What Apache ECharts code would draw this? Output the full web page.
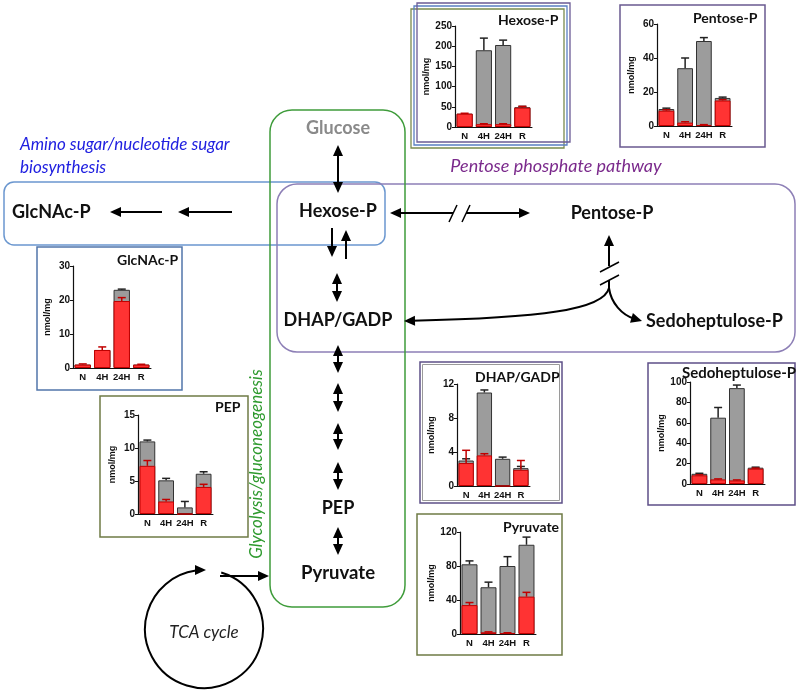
<!DOCTYPE html>
<html><head><meta charset="utf-8">
<script src="https://cdn.jsdelivr.net/npm/echarts@6/dist/echarts.min.js"></script>
<style>html,body{margin:0;padding:0;background:#fff}#c{width:800px;height:693px}</style>
</head><body><div id="c"></div>
<script>
// ---------- DATA ----------
const categories = ['N', '4H', '24H', 'R'];
const chartNames = ['Hexose-P', 'Pentose-P', 'GlcNAc-P', 'PEP', 'DHAP/GADP', 'Sedoheptulose-P', 'Pyruvate'];
const yMax = [250, 60, 30, 15, 12, 100, 120];
const yStep = [50, 20, 10, 5, 4, 20, 40];

const hexoseGray = [33, 190, 203, 49];
const hexoseGrayErr = [null, 220, 215, 51];
const hexoseRed = [33, 7, 7, 48];
const hexoseRedErr = [34, 8, 8, 51];

const pentoseGray = [10, 34, 50, 16.5];
const pentoseGrayErr = [10.5, 40, 52, 17];
const pentoseRed = [9, 2, 0.5, 15];
const pentoseRedErr = [9.5, 2.5, 0.8, 15.5];

const glcnacGray = [1, 5.3, 23, 1];
const glcnacGrayErr = [null, null, 23.2, null];
const glcnacRed = [1, 5.3, 19.7, 1];
const glcnacRedErr = [1.2, 6.2, 20.7, 1.1];

const pepGray = [11, 5.1, 1.0, 6.1];
const pepGrayErr = [11.2, 5.4, 1.9, 6.4];
const pepRed = [7.3, 1.9, 0, 4.1];
const pepRedErr = [8.1, 2.2, null, 4.5];

const dhapGray = [3.0, 11.0, 3.2, 2.1];
const dhapGrayErr = [3.2, 11.3, 3.4, 2.3];
const dhapRed = [2.7, 3.6, 0, 1.9];
const dhapRedErr = [4.2, 3.8, null, 3.0];

const sedoGray = [10, 65, 94, 16];
const sedoGrayErr = [10.5, 75, 97, 16.5];
const sedoRed = [8.5, 4.5, 3.5, 15];
const sedoRedErr = [9, 5, 4, 15.5];

const pyruvateGray = [82, 55, 80, 105];
const pyruvateGrayErr = [86, 61, 91, 114];
const pyruvateRed = [34, 2, 1, 44];
const pyruvateRedErr = [37, 2.5, 1.5, 49];

const grayVals = [hexoseGray, pentoseGray, glcnacGray, pepGray, dhapGray, sedoGray, pyruvateGray];
const grayErrs = [hexoseGrayErr, pentoseGrayErr, glcnacGrayErr, pepGrayErr, dhapGrayErr, sedoGrayErr, pyruvateGrayErr];
const redVals = [hexoseRed, pentoseRed, glcnacRed, pepRed, dhapRed, sedoRed, pyruvateRed];
const redErrs = [hexoseRedErr, pentoseRedErr, glcnacRedErr, pepRedErr, dhapRedErr, sedoRedErr, pyruvateRedErr];

// ---------- LAYOUT ----------
const gridBox = [ // left, top, width, height
  [455, 26, 77, 101],
  [657, 24, 75, 102],
  [73, 266, 78, 102],
  [138, 415, 75, 99],
  [457, 384, 73, 102],
  [690, 382, 75, 102],
  [460, 532, 76, 102]
];
const titlePos = [[498, 20], [693, 18], [117, 260], [215, 407], [475, 377], [682, 373], [503, 527]];
const titleSize = [14, 14, 14, 14, 14, 15, 14];

const AX = 'Liberation Sans';
const DF = 'Lato';

const grids = [], xAxes = [], yAxes = [], series = [];
chartNames.forEach((nm, i) => {
  const g = gridBox[i];
  grids.push({left: g[0], top: g[1], width: g[2], height: g[3]});
  xAxes.push({type: 'category', gridIndex: i, data: categories,
    axisLine: {lineStyle: {color: '#111', width: 1}}, axisTick: {show: false},
    axisLabel: {interval: 0, fontFamily: AX, fontWeight: 'bold', fontSize: 9.5, color: '#111', margin: 4}});
  yAxes.push({type: 'value', gridIndex: i, min: 0, max: yMax[i], interval: yStep[i],
    splitLine: {show: false},
    axisLine: {show: true, lineStyle: {color: '#111', width: 1.2}},
    axisTick: {show: true, length: 3, lineStyle: {color: '#111'}},
    axisLabel: {fontFamily: AX, fontWeight: 'bold', fontSize: 10, color: '#111', margin: 3},
    name: 'nmol/mg', nameLocation: 'middle', nameGap: 21, nameRotate: 90,
    nameTextStyle: {fontFamily: AX, fontWeight: 'bold', fontSize: 9, color: '#111'}});
  series.push({type: 'bar', xAxisIndex: i, yAxisIndex: i, data: grayVals[i],
    barCategoryGap: '16%', barGap: '-100%',
    itemStyle: {color: '#9c9c9c', borderColor: '#333', borderWidth: 1}, z: 2});
  series.push({type: 'bar', xAxisIndex: i, yAxisIndex: i, data: redVals[i],
    barCategoryGap: '16%', barGap: '-100%',
    itemStyle: {color: '#ff3333', borderColor: '#c00000', borderWidth: 1}, z: 3});
  const mkErr = (vals, errs, color, z) => ({
    type: 'custom', xAxisIndex: i, yAxisIndex: i, z: z,
    data: categories.map((c, k) => [k, vals[k], errs[k] == null ? vals[k] : errs[k]]),
    renderItem: (params, api) => {
      const k = api.value(0), v = api.value(1), e = api.value(2);
      if (!(e > v)) return null;
      const p0 = api.coord([k, v]), p1 = api.coord([k, e]);
      return {type: 'group', children: [
        {type: 'line', shape: {x1: p0[0], y1: p0[1], x2: p1[0], y2: p1[1]}, style: {stroke: color, lineWidth: 1.5}},
        {type: 'line', shape: {x1: p1[0] - 4, y1: p1[1], x2: p1[0] + 4, y2: p1[1]}, style: {stroke: color, lineWidth: 1.5}}
      ]};
    }
  });
  series.push(mkErr(grayVals[i], grayErrs[i], '#222', 4));
  series.push(mkErr(redVals[i], redErrs[i], '#c00000', 5));
});

// ---------- DIAGRAM GRAPHICS ----------
const G = [];
function rect(x, y, w, h, r, stroke, lw) {
  G.push({type: 'rect', z: 1, shape: {x: x, y: y, width: w, height: h, r: r}, style: {fill: 'none', stroke: stroke, lineWidth: lw || 1.5}});
}
function text(s, x, y, font, fill, align, rot) {
  G.push({type: 'text', z: 50, x: x, y: y, rotation: rot || 0,
    style: {text: s, font: font, fill: fill || '#111', align: align || 'center', verticalAlign: 'middle'}});
}
function line(x1, y1, x2, y2, lw) {
  G.push({type: 'line', z: 40, shape: {x1: x1, y1: y1, x2: x2, y2: y2}, style: {stroke: '#000', lineWidth: lw || 2}});
}
function head(x, y, ang) {
  const L = 11, W = 5;
  const bx = x - L * Math.cos(ang), by = y - L * Math.sin(ang);
  const px = -Math.sin(ang) * W, py = Math.cos(ang) * W;
  G.push({type: 'polygon', z: 41, shape: {points: [[x, y], [bx + px, by + py], [bx - px, by - py]]}, style: {fill: '#000'}});
}
function arrow(x1, y1, x2, y2, hs, he) {
  const ang = Math.atan2(y2 - y1, x2 - x1), c = Math.cos(ang), s = Math.sin(ang);
  let a1 = x1, b1 = y1, a2 = x2, b2 = y2;
  if (he) { a2 = x2 - 8 * c; b2 = y2 - 8 * s; head(x2, y2, ang); }
  if (hs) { a1 = x1 + 8 * c; b1 = y1 + 8 * s; head(x1, y1, ang + Math.PI); }
  line(a1, b1, a2, b2);
}
function curveArrow(x1, y1, cx1, cy1, cx2, cy2, x2, y2) {
  const ang = Math.atan2(y2 - cy2, x2 - cx2);
  G.push({type: 'bezierCurve', z: 40, shape: {x1: x1, y1: y1, cpx1: cx1, cpy1: cy1, cpx2: cx2, cpy2: cy2,
    x2: x2 - 8 * Math.cos(ang), y2: y2 - 8 * Math.sin(ang)}, style: {stroke: '#000', lineWidth: 2, fill: 'none'}});
  head(x2, y2, ang);
}

// pathway boxes
rect(4, 182, 381, 63, 10, '#6b97cf');
rect(277, 184, 518, 168, 20, '#8d7fb6');
rect(270, 110, 135, 497, 22, '#3f9c3b');

// chart frames
rect(411, 9, 153, 139, 0, '#7a8a4e', 1.3);
rect(414, 6, 153, 139, 0, '#5a7fc2', 1.3);
rect(417, 3, 153, 139, 0, '#6b5b95', 1.3);
rect(620, 5, 145, 142, 0, '#6a5a90');
rect(37, 247, 145, 143, 0, '#5276aa');
rect(100, 396, 148, 141, 0, '#6f7b45');
rect(420, 362, 142, 141, 0, '#5e5088');
rect(422.5, 364.5, 137, 136, 0, '#9a9a9a', 1);
rect(648, 363, 147, 142, 0, '#5e4f88');
rect(417, 514, 145, 141, 0, '#6f7b45');

// chart titles
chartNames.forEach((nm, i) => text(nm, titlePos[i][0], titlePos[i][1], 'bold ' + titleSize[i] + 'px ' + DF, '#111', 'left'));

// labels
text('Amino sugar/nucleotide sugar', 20, 145, 'italic 17px ' + DF, '#2020e0', 'left');
text('biosynthesis', 20, 168, 'italic 17px ' + DF, '#2020e0', 'left');
text('Pentose phosphate pathway', 556, 166, 'italic 18px ' + DF, '#7b2a8c');
text('Glycolysis/gluconeogenesis', 257, 464, 'italic 17px ' + DF, '#2e9a2e', 'center', Math.PI / 2);
text('TCA cycle', 204, 633, 'italic 17px ' + DF, '#222');
text('GlcNAc-P', 12, 212, 'bold 18px ' + DF, '#111', 'left');
text('Glucose', 338, 128, 'bold 18px ' + DF, '#8a8a8a');
text('Hexose-P', 338, 211, 'bold 18px ' + DF);
text('Pentose-P', 612, 213, 'bold 18px ' + DF);
text('DHAP/GADP', 338, 320, 'bold 18px ' + DF);
text('Sedoheptulose-P', 646, 321, 'bold 18px ' + DF, '#111', 'left');
text('PEP', 338, 508, 'bold 18px ' + DF);
text('Pyruvate', 338, 573, 'bold 18.5px ' + DF);

// arrows
arrow(162, 212, 110, 212, false, true);
arrow(232, 212, 178, 212, false, true);
arrow(338, 145, 338, 193, true, true);
arrow(390, 213, 453, 213, true, false);
arrow(466, 213, 530, 213, false, true);
line(449, 222, 457, 205, 1.5);
line(462, 222, 470, 205, 1.5);
arrow(332, 228, 332, 257, false, true);
arrow(346, 259, 346, 230, false, true);
arrow(337, 273, 337, 302, true, true);
[[345, 373], [383, 412], [423, 450], [462, 490], [527, 555]].forEach(p => arrow(338, p[0], 338, p[1], true, true));
arrow(609, 266, 609, 235, false, true);
line(609, 288, 609, 280);
line(600, 272, 619, 262, 1.5);
line(600, 285, 619, 275, 1.5);
curveArrow(609, 288, 604, 310, 540, 318, 404, 321);
curveArrow(609, 288, 611, 303, 622, 315, 642, 321);

// TCA cycle
const cx = 204, cy = 629, R = 59;
G.push({type: 'arc', z: 40, shape: {cx: cx, cy: cy, r: R, startAngle: -73 * Math.PI / 180, endAngle: 262 * Math.PI / 180, clockwise: true},
  style: {stroke: '#000', lineWidth: 2, fill: 'none'}});
head(cx + 2, cy - R, 0);
arrow(220, 576, 269, 576, false, true);

const chart = echarts.init(document.getElementById('c'), null, {renderer: 'canvas'});
chart.setOption({
  animation: false,
  backgroundColor: '#fff',
  grid: grids, xAxis: xAxes, yAxis: yAxes, series: series,
  graphic: {elements: G}
});
</script></body></html>
